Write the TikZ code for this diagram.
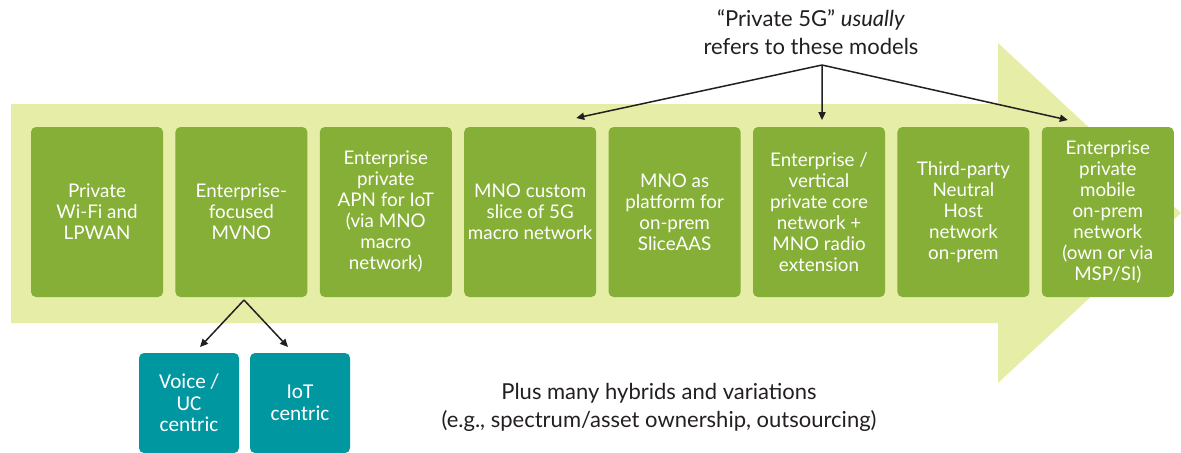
\documentclass[tikz,border=0pt]{standalone}
\usepackage{fontspec}
\setmainfont{Lato}
\newfontfamily\calibrifont{Carlito}
\usetikzlibrary{arrows.meta, positioning, calc}

\definecolor{bandgreen}{HTML}{E6EDA6}
\definecolor{boxgreen}{HTML}{85AF37}
\definecolor{tealbox}{HTML}{0097A1}
\definecolor{inkdark}{HTML}{231F20}

\begin{document}
\begin{tikzpicture}[
    x=0.5pt, y=-0.5pt,
    node distance=6.2pt and 6.2pt,
    model/.style={fill=boxgreen, rounded corners=2.5pt, align=center, text=white,
                  font=\fontsize{9.4}{10.5}\selectfont, inner sep=0pt, outer sep=0pt,
                  minimum width=66pt, minimum height=85pt},
    variant/.style={fill=tealbox, rounded corners=2.5pt, align=center, text=white,
                  font=\calibrifont\fontsize{10.6}{10.8}\selectfont, inner sep=0pt,
                  outer sep=0pt, minimum width=50pt, minimum height=50pt},
    note/.style={align=center, text=inkdark, font=\fontsize{11}{14}\selectfont},
    arr/.style={-{Triangle[length=4pt, width=3.6pt]}, line width=0.75pt, draw=inkdark}
  ]
  \useasboundingbox (0,0) rectangle (1181,452);
  % background arrow
  \fill[bandgreen] (11,104) -- (998,104) -- (998,43) -- (1181,213)
      -- (998,383) -- (998,323) -- (11,323) -- cycle;

  \node[model] (wifi) at (97,212) {Private\\Wi-Fi and\\LPWAN};
  \node[model, right=of wifi] (mvno)  {Enterprise-\\focused\\MVNO};
  \node[model, right=of mvno] (apn)   {Enterprise\\private\\APN for IoT\\(via MNO\\macro\\network)};
  \node[model, right=of apn] (slice)  {MNO custom\\slice of 5G\\macro network};
  \node[model, right=of slice] (saas) {MNO as\\platform for\\on-prem\\SliceAAS};
  \node[model, right=of saas] (core)  {Enterprise /\\vertical\\private core\\network +\\MNO radio\\extension};
  \node[model, right=of core] (host)  {Third-party\\Neutral\\Host\\network\\on-prem};
  \node[model, right=of host] (own)   {Enterprise\\private\\mobile\\on-prem\\network\\(own or via\\MSP/SI)};

  \node[variant] (voice) at (189,403) {Voice /\\UC\\centric};
  \node[variant, right=5.5pt of voice] (iot) {IoT\\centric};

  \node[note] (usual) at (811,32) {``Private 5G'' \textit{usually}\\refers to these models};
  \node[note] (hybrid) at (659,407) {Plus many hybrids and variations\\(e.g., spectrum/asset ownership, outsourcing)};

  % fan-out arrows
  \coordinate (fork) at (822,65);
  \coordinate (split) at (244,300);
  \draw[arr] (fork) -- ($(slice.north east)+(-20,-9)$);
  \draw[arr] (fork) -- ($(core.north)+(3,-7)$);
  \draw[arr] (fork) -- ($(own.north west)+(26,-7)$);
  \draw[arr] (split) -- ($(voice.north)+(11,-6)$);
  \draw[arr] (split) -- ($(iot.north)+(-12,-6)$);
\end{tikzpicture}
\end{document}
